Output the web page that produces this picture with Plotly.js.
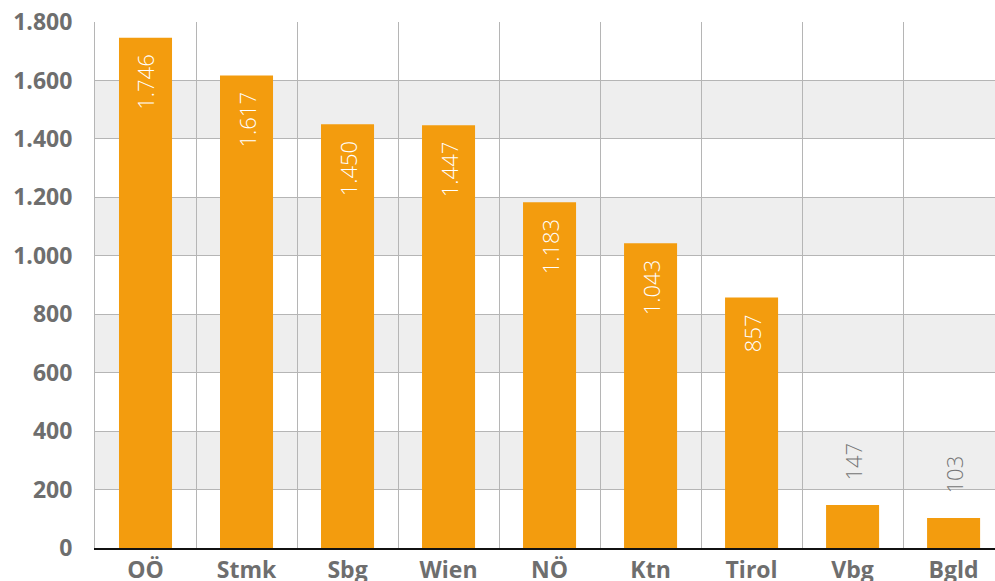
<!DOCTYPE html>
<html><head><meta charset="utf-8">
<script src="https://cdn.plot.ly/plotly-3.0.1.min.js"></script>
<style>html,body{margin:0;padding:0;overflow:hidden;background:#fff}</style>
</head><body><div id="chart" style="width:995px;height:581px"></div>
<script>
const categories = ["OÖ","Stmk","Sbg","Wien","NÖ","Ktn","Tirol","Vbg","Bgld"];
const values = [1746,1617,1450,1447,1183,1043,857,147,103];
const yTicks = [0,200,400,600,800,1000,1200,1400,1600,1800];
const bandStarts = [200,600,1000,1400];

function fmt(v){return String(v).replace(/\B(?=(\d{3})+(?!\d))/g,'.');}

const orange = '#F39C0E';
const grey = '#6e6e6e';
const gridC = '#b5b5b5';

const trace = {
  type:'bar', x:categories, y:values, width:0.525,
  marker:{color:orange, line:{width:0}}, hoverinfo:'none'
};

const shapes = bandStarts.map(b=>({type:'rect', xref:'paper', x0:0, x1:1, yref:'y', y0:b, y1:b+200,
  fillcolor:'#eeeeee', line:{width:0}, layer:'below'}));

const annotations = values.map((v,i)=>{
  const inside = v > 400;
  return {x:categories[i], y:v, xref:'x', yref:'y', text:fmt(v), showarrow:false, textangle:-90,
    yanchor: inside ? 'top' : 'bottom', yshift: inside ? -15 : 22,
    font:{family:'Open Sans, sans-serif', size:22, weight:300, color: inside ? '#ffffff' : '#757575'}};
});

const layout = {
  width:995, height:581,
  margin:{l:95, r:0, t:22, b:33},
  paper_bgcolor:'#ffffff', plot_bgcolor:'rgba(0,0,0,0)',
  separators:',.',
  showlegend:false,
  xaxis:{type:'category', range:[-0.5,8.41], tickson:'boundaries', showgrid:true, gridcolor:gridC, gridwidth:1,
    ticks:'', showline:true, linecolor:'#111111', linewidth:2,
    tickfont:{family:'Open Sans, sans-serif', size:23, weight:'bold', color:grey}, fixedrange:true},
  yaxis:{range:[0,1800], tickvals:yTicks, ticktext:yTicks.map(fmt), showgrid:true, gridcolor:gridC, gridwidth:1,
    zeroline:false, showline:true, linecolor:gridC, linewidth:1, ticks:'', ticklabelstandoff:17,
    tickfont:{family:'Open Sans, sans-serif', size:23, weight:'bold', color:grey}, fixedrange:true},
  shapes:shapes, annotations:annotations, bargap:0.475
};
Plotly.newPlot('chart',[trace],layout,{displayModeBar:false, staticPlot:true});
</script></body></html>
